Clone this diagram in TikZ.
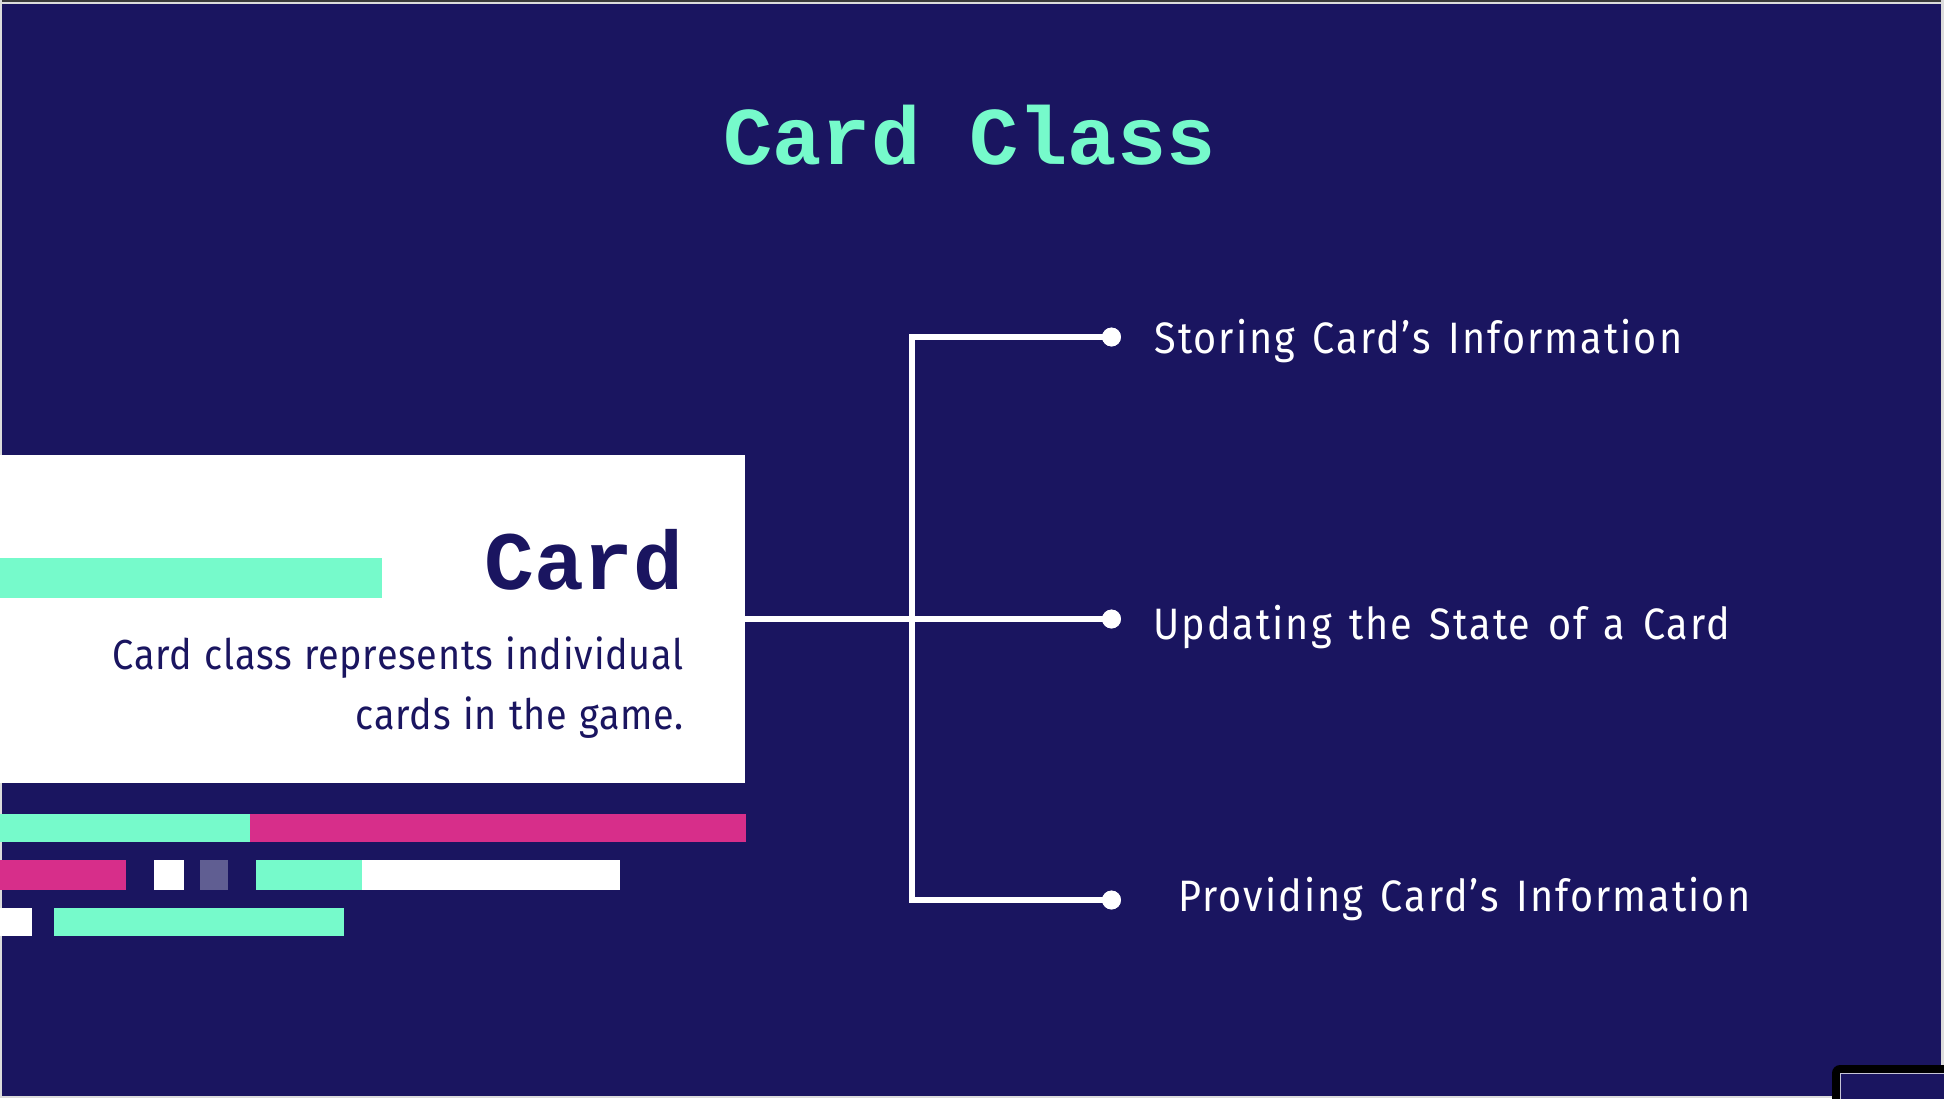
\documentclass[tikz,border=0pt]{standalone}
\usepackage{fontspec}
\setmainfont{Fira Sans}[FakeStretch=0.9, LetterSpace=1.8, WordSpace=1.15]
\newfontfamily\monofam{Liberation Mono}
\newfontfamily\labfont{Fira Sans}[FakeStretch=0.9, LetterSpace=4.6, WordSpace=1.4]
\definecolor{navy}{HTML}{1A1560}
\definecolor{mint}{HTML}{76FACB}
\definecolor{rose}{HTML}{D72E8A}
\definecolor{lilac}{HTML}{605E92}
\definecolor{edgegray}{HTML}{DCDCDC}
\definecolor{topdark}{HTML}{3A3A3A}
\tikzset{
  conn/.style={draw=white, line width=2.8pt},
  dotnode/.style={circle, fill=white, inner sep=0pt, minimum size=9.4pt},
  label/.style={text=white, anchor=base west, inner sep=0pt, font=\labfont\fontsize{22}{26}\selectfont},
  desc/.style={text=navy, anchor=base east, inner sep=0pt, font=\fontsize{21}{25}\selectfont},
  bar/.style={fill=#1, draw=none},
}
\begin{document}
\begin{tikzpicture}[x=0.5pt, y=-0.5pt]
\useasboundingbox (0,0) rectangle (1944,1098);
\begin{scope}
\clip (0,0) rectangle (1944,1098);
% background and screen edges
\fill[navy] (0,0) rectangle (1944,1098);
\fill[edgegray] (0,0) rectangle (1944,4);
\fill[topdark] (0,0) rectangle (1944,1.8);
\fill[edgegray] (0,0) rectangle (2,1098);
\fill[edgegray] (1941,0) rectangle (1944,1098);
\fill[edgegray] (0,1095.7) rectangle (1944,1098);
% bottom-right thumbnail corner
\fill[black, rounded corners=4pt] (1832,1065) rectangle (1980,1130);
\draw[fill=navy, draw=white!75!navy, line width=0.6pt] (1840.5,1073.5) rectangle (1980,1130);
% title
\node[anchor=base, inner sep=0pt, text=mint, font=\monofam\bfseries\fontsize{41}{41}\selectfont] (title) at (969.5,164) {Card Class};
% card box
\node[fill=white, inner sep=0pt, minimum width=372.5pt, minimum height=164pt] (cardbox) at (372.5,619) {};
\fill[mint] (0,558) rectangle (382,597.7);
\node[anchor=base east, inner sep=0pt, text=navy, font=\monofam\bfseries\fontsize{41.5}{41.5}\selectfont] (cardname) at (684,589) {Card};
\node[desc] (desc1) at (684,669) {Card class represents individual};
\node[desc] (desc2) at (684,729) {cards in the game.};
% decorative bars
\fill[bar=mint] (0,814) rectangle (250,841.7);
\fill[bar=rose] (250,814) rectangle (745.5,841.7);
\fill[bar=rose] (0,860) rectangle (126,889.7);
\fill[bar=white] (154,860) rectangle (184,889.7);
\fill[bar=lilac] (200,860) rectangle (228,889.7);
\fill[bar=mint] (256,860) rectangle (362,889.7);
\fill[bar=white] (362,860) rectangle (620,889.7);
\fill[bar=white] (0,908) rectangle (32,935.7);
\fill[bar=mint] (54,908) rectangle (344,935.7);
% connectors
\coordinate (jt) at (912,337);
\coordinate (jb) at (912,900);
\node[dotnode] (d1) at (1111.5,337) {};
\node[dotnode] (d2) at (1111.5,619) {};
\node[dotnode] (d3) at (1111.5,900) {};
\draw[conn] (d1.center) -- (jt) -- (jb) -- (d3.center);
\draw[conn] (cardbox.east) -- (d2.center);
\node[dotnode] at (d1) {};
\node[dotnode] at (d2) {};
\node[dotnode] at (d3) {};
% labels
\node[label] (l1) at (1154,353) {Storing Card’s Information};
\node[label] (l2) at (1153,639) {Updating the State of a Card};
\node[label] (l3) at (1178,911) {Providing Card’s Information};
\end{scope}
\end{tikzpicture}
\end{document}
